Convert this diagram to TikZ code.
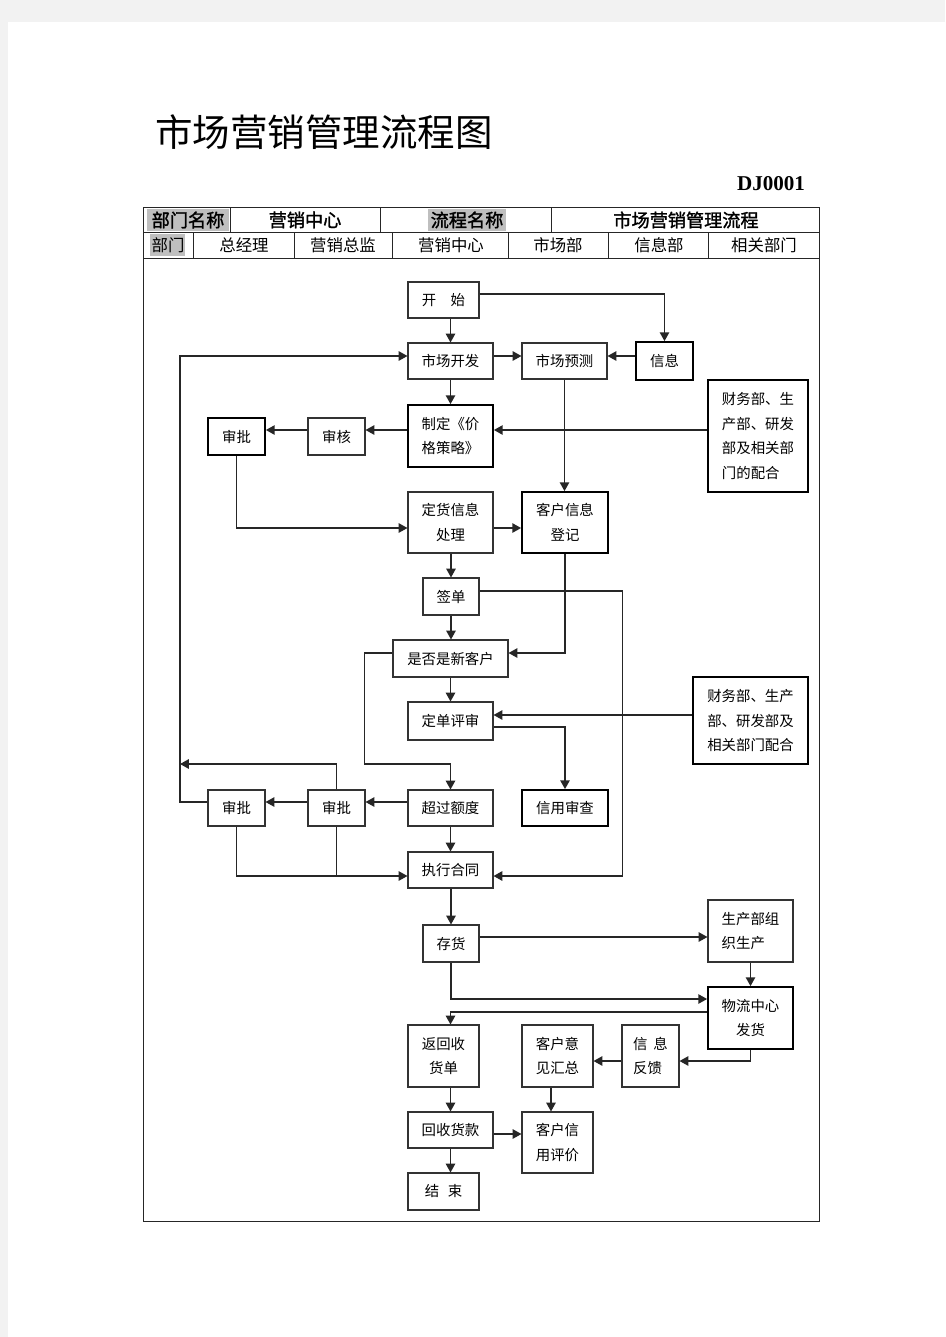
\documentclass[tikz,border=0pt]{standalone}
\usepackage{fontspec}
\setmainfont{Liberation Serif}
\newfontfamily\cjk{Noto Sans CJK SC}
\newfontfamily\cjkb[FakeBold=1.5]{Noto Sans CJK SC}
\usetikzlibrary{%
  arrows.meta,%
  calc%
}

\begin{document}
\begin{tikzpicture}[x=0.03cm,y=-0.03cm,
    wh/.style 2 args={minimum width=#1*0.03cm,minimum height=#2*0.03cm},
    box/.style={draw=black!80,line width=0.9pt,fill=white,inner sep=0pt,
      align=center,font=\cjk\fontsize{12.3pt}{21pt}\selectfont},
    thickbox/.style={box,draw=black,line width=1.5pt},
    arr/.style={draw=black!85,line width=1.2pt,-{Triangle[length=7.5pt,width=8pt]}},
    ln/.style={draw=black!85,line width=1.2pt},
    head/.style={inner sep=0pt,font=\cjkb\fontsize{15.5pt}{18pt}\selectfont},
    sub/.style={inner sep=0pt,font=\cjk\fontsize{14pt}{16pt}\selectfont}]
  \useasboundingbox (0,0) rectangle (945,1337);
  \fill[black!5] (0,0) rectangle (945,1337);
  \fill[white] (8,22) rectangle (945,1337);

  % title and form header
  \node[anchor=west,inner sep=0pt,font=\cjk\fontsize{32pt}{32pt}\selectfont] (title) at (155,132) {市场营销管理流程图};
  \node[inner sep=0pt,font=\bfseries\fontsize{18pt}{18pt}\selectfont] (code) at (771,184) {DJ0001};
  \fill[black!25] (147,209) rectangle (229,231);
  \fill[black!25] (428,209) rectangle (506,231);
  \fill[black!25] (150,234) rectangle (185,256);
  \draw[black!85,line width=0.8pt] (143,207) rectangle (819,1221);
  \draw[black!85,line width=0.8pt] (143,232) -- (819,232) (143,258) -- (819,258);
  \foreach \x in {230,380,551}
    \draw[black!85,line width=0.8pt] (\x,207) -- (\x,232);
  \foreach \x in {193,294,392,508,608,708}
    \draw[black!85,line width=0.8pt] (\x,232) -- (\x,258);
  \node[head] (dname) at (188,220) {部门名称};
  \node[head] (dval) at (305,220) {营销中心};
  \node[head] (pname) at (467,220) {流程名称};
  \node[head] (pval) at (686,220) {市场营销管理流程};
  \node[sub] (c0) at (168,245) {部门};
  \node[sub] (c1) at (244,245) {总经理};
  \node[sub] (c2) at (343,245) {营销总监};
  \node[sub] (c3) at (451,245) {营销中心};
  \node[sub] (c4) at (558,245) {市场部};
  \node[sub] (c5) at (659,245) {信息部};
  \node[sub] (c6) at (764,245) {相关部门};

  % boxes
  \node[box,wh={71}{36}] (start) at (443.5,300) {开\hspace{1em}始};
  \node[thickbox,wh={57}{38}] (xx) at (664.5,361) {信息};
  \node[box,wh={85}{36}] (scdev) at (450.5,361) {市场开发};
  \node[box,wh={85}{36}] (scpred) at (564.5,361) {市场预测};
  \node[thickbox,wh={100}{112},align=left] (coop1) at (758,436) {财务部、生\\产部、研发\\部及相关部\\门的配合};
  \node[thickbox,wh={85}{62},align=left] (price) at (450.5,436) {制定《价\\格策略》};
  \node[box,wh={57}{37}] (check) at (336.5,436.5) {审核};
  \node[thickbox,wh={57}{37}] (appr1) at (236.5,436.5) {审批};
  \node[box,wh={85}{61}] (order) at (450.5,522.5) {定货信息\\处理};
  \node[thickbox,wh={86}{61}] (cust) at (565,522.5) {客户信息\\登记};
  \node[box,wh={56}{37}] (sign) at (451,596.5) {签单};
  \node[box,wh={115}{37}] (isnew) at (450.5,658.5) {是否是新客户};
  \node[box,wh={85}{38}] (review) at (450.5,721) {定单评审};
  \node[thickbox,wh={115}{87},align=left] (coop2) at (750.5,720.5) {财务部、生产\\部、研发部及\\相关部门配合};
  \node[thickbox,wh={86}{36}] (credit) at (565,808) {信用审查};
  \node[box,wh={85}{36}] (over) at (450.5,808) {超过额度};
  \node[box,wh={57}{36}] (appr2) at (336.5,808) {审批};
  \node[box,wh={57}{36}] (appr3) at (236.5,808) {审批};
  \node[box,wh={85}{36}] (exec) at (450.5,870) {执行合同};
  \node[box,wh={56}{37}] (stock) at (451,943.5) {存货};
  \node[box,wh={85}{62},align=left] (prod) at (750.5,931) {生产部组\\织生产};
  \node[thickbox,wh={85}{62}] (logi) at (750.5,1018) {物流中心\\发货};
  \node[box,wh={71}{62}] (retbill) at (443.5,1056) {返回收\\货单};
  \node[box,wh={71}{62},align=left] (opinion) at (557.5,1056) {客户意\\见汇总};
  \node[box,wh={57}{62},align=left] (feedback) at (650.5,1056) {信\hspace{0.4em}息\\反馈};
  \node[box,wh={85}{36}] (payment) at (450.5,1130) {回收货款};
  \node[box,wh={71}{61},align=left] (rating) at (557.5,1142.5) {客户信\\用评价};
  \node[box,wh={71}{37}] (finish) at (443.5,1191.5) {结\hspace{0.6em}束};
  \coordinate (back) at (180,764);

  % connectors
  \draw[arr] (start.south -| scdev) -- (scdev.north);
  \draw[arr] (start.east |- 0,294) -| (xx.north);
  \draw[arr] (xx.west |- 0,356) -- (scpred.east |- 0,356);
  \draw[arr] (scdev.east |- 0,356) -- (scpred.west |- 0,356);
  \draw[arr] (scdev) -- (price);
  \draw[arr] (coop1.west |- 0,430) -- (price.east |- 0,430);
  \draw[arr] (scpred.south) -- (scpred.south |- cust.north);
  \draw[arr] (price.west |- 0,430) -- (check.east |- 0,430);
  \draw[arr] (check.west |- 0,430) -- (appr1.east |- 0,430);
  \draw[arr] (appr1.south) |- (order.west |- 0,528);
  \draw[arr] (order.east |- 0,528) -- (cust.west |- 0,528);
  \draw[arr] (order.south -| sign) -- (sign.north);
  \draw[arr] (sign) -- (sign.south |- isnew.north);
  \draw[arr,line width=1.5pt] (sign.east |- 0,591) -- ++(143,0) |- (exec.east |- 0,876);
  \draw[arr] (cust.south) |- (isnew.east |- 0,653);
  \draw[arr] (isnew) -- (review);
  \draw[arr] (isnew.west |- 0,653) -- ++(-28,0) |- (over.north |- 0,764) -- (over.north);
  \draw[arr] (coop2.west |- 0,715) -- (review.east |- 0,715);
  \draw[arr] (review.east |- 0,727) -| (credit.north);
  \draw[arr] (over.west |- 0,802) -- (appr2.east |- 0,802);
  \draw[arr] (appr2.west |- 0,802) -- (appr3.east |- 0,802);
  \draw[arr] (appr2.north) |- (back);
  \draw[arr] (appr3.west |- 0,802) -| (back) |- (scdev.west |- 0,356);
  \draw[arr] (appr3.south) |- (exec.west |- 0,876);
  \draw[ln] (appr2.south) -- (appr2.south |- 0,876);
  \draw[arr] (over) -- (exec);
  \draw[arr] (exec.south -| stock) -- (stock.north);
  \draw[arr] (stock.east |- 0,937) -- (prod.west |- 0,937);
  \draw[arr] (stock.south) |- (logi.west |- 0,999);
  \draw[arr] (prod) -- (logi);
  \draw[arr] (logi.west |- 0,1012) -| (retbill.north -| exec);
  \draw[arr] (logi.south) |- (feedback.east |- 0,1061);
  \draw[arr] (feedback.west |- 0,1061) -- (opinion.east |- 0,1061);
  \draw[arr] (opinion.south -| 551,0) -- (rating.north -| 551,0);
  \draw[arr] (retbill.south -| exec) -- (payment.north);
  \draw[arr] (payment.east |- 0,1134) -- (rating.west |- 0,1134);
  \draw[arr] (payment.south) -- (finish.north -| payment);
\end{tikzpicture}
\end{document}
